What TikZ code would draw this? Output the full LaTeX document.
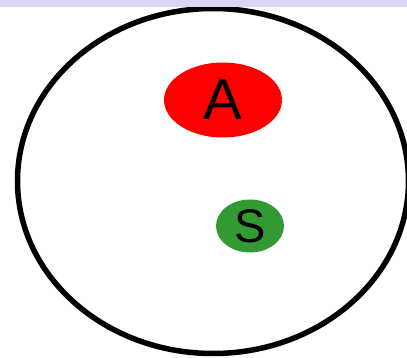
\documentclass[tikz,border=0pt]{standalone}
\usepackage{fontspec}
\setmainfont{Liberation Sans}
\usepackage{xcolor}
\usepackage{tikz}
\usetikzlibrary{shapes.geometric}
\definecolor{bandlav}{RGB}{216,216,244}
\definecolor{setgreen}{RGB}{51,153,51}
\tikzset{
vnworld/.style={ellipse,draw=black,line width=5.5pt,fill=none,inner sep=0pt},
vnset/.style={ellipse,draw=none,inner sep=0pt,text=black},
vnband/.style={fill=bandlav,draw=none}
}

\begin{document}
\begin{tikzpicture}[
x=1pt,
y=1pt,
every node/.style={font=\fontsize{58}{58}\selectfont}
]
\clip (0,0) rectangle (407,-358);
\fill[white] (0,0) rectangle (407,-358);
\node[vnworld,minimum width=391pt,minimum height=345pt]
  (world) at (213,-181) {};
\node[vnset,fill=red,minimum width=118pt,minimum height=75pt]
  (setA) at (223,-100) {A};
\node[vnset,fill=setgreen,minimum width=68pt,minimum height=53pt,font=\fontsize{47}{47}\selectfont]
  (setS) at (250,-226) {S};
\fill[vnband] (0,0) rectangle (407,-7.5);
\end{tikzpicture}
\end{document}
